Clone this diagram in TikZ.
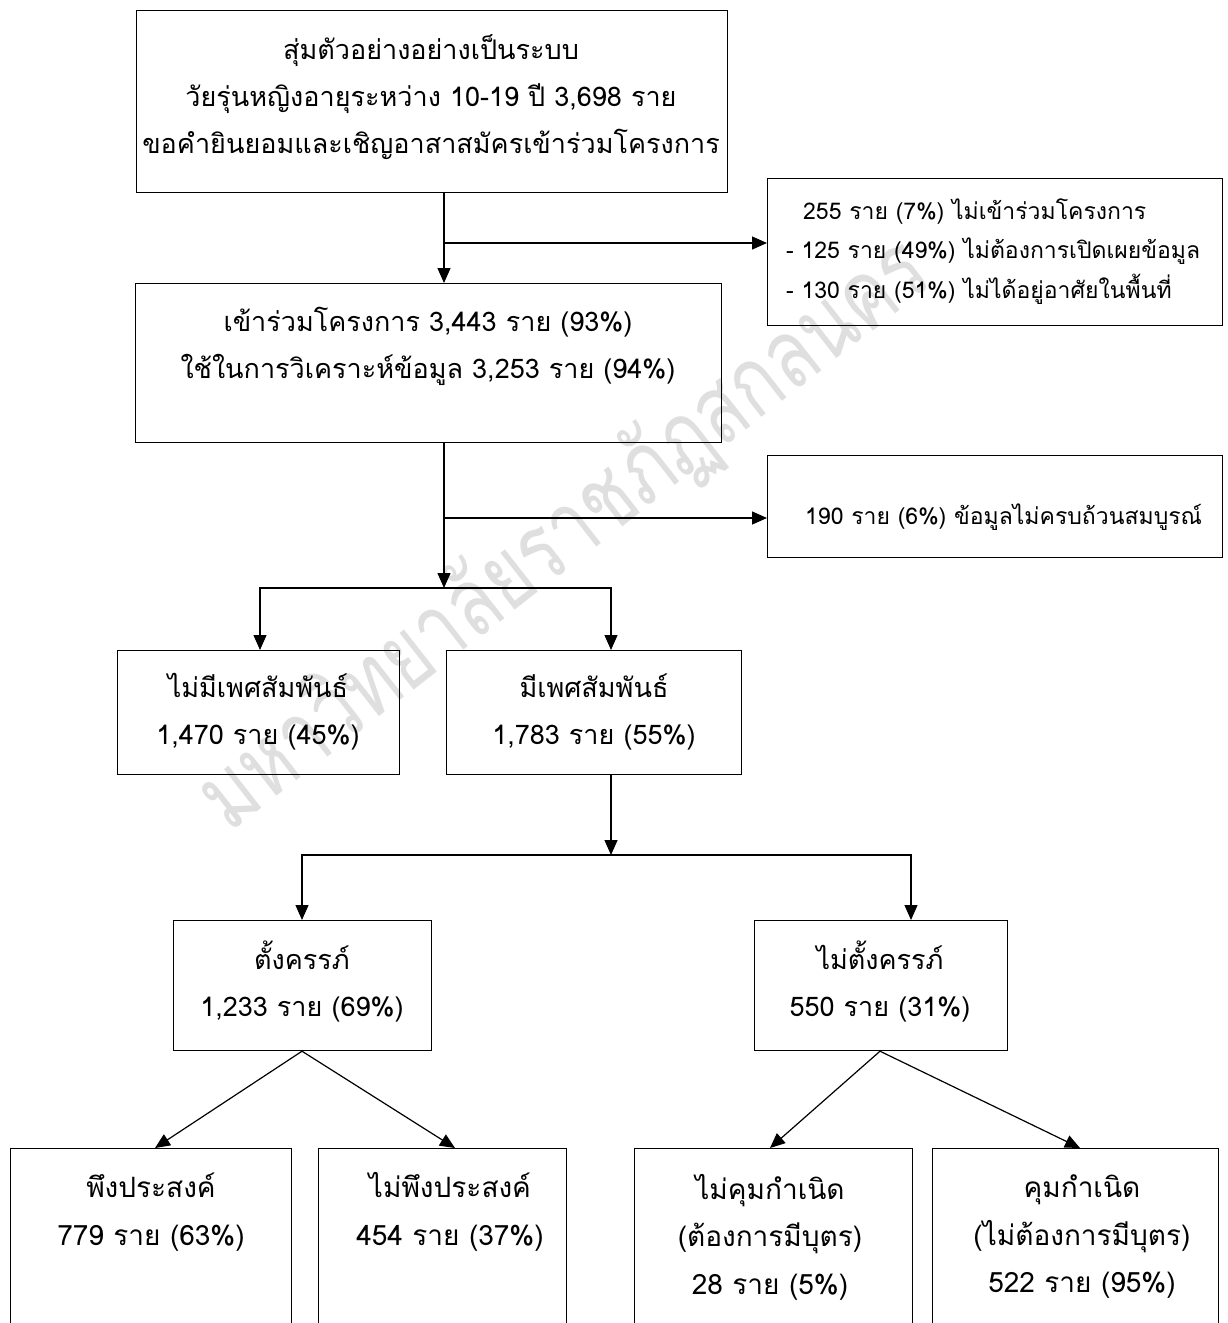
\documentclass[tikz,border=0pt]{standalone}
\usepackage{fontspec}
\setmainfont[Script=Thai]{Loma}
\newfontfamily\wmfont[Script=Thai,FakeStretch=0.76]{Loma}
\usetikzlibrary{arrows.meta,calc}
\tikzset{
  box/.style={draw, line width=1.2pt, rectangle, anchor=north west, inner sep=0pt},
  txt/.style={font=\fontsize{27}{47}\selectfont, align=center, inner sep=0pt},
  btxt/.style={font=\fontsize{28}{47.5}\selectfont, align=center, inner sep=0pt},
  ltxt/.style={font=\fontsize{23}{39}\selectfont, align=left, inner sep=0pt, anchor=west},
  conn/.style={line width=1.2pt},
  arr/.style={line width=1.2pt, -{Triangle[length=15pt,width=13pt]}},
  wm/.style={font=\wmfont\fontsize{96}{100}\selectfont, text=gray!25, inner sep=0pt}
}
\begin{document}
\begin{tikzpicture}[x=1pt,y=-1pt]
\useasboundingbox (0,0) rectangle (1227,1323);
\fill[white] (0,0) rectangle (1227,1323);
% watermark
\node[wm, rotate=38] (wmark) at (565,535) {มหาวิทยาลัยราชภัฏสกลนคร};
% boxes
\node[box, minimum width=591pt, minimum height=182pt] (b1) at (136,10) {};
\node[box, minimum width=455pt, minimum height=147pt] (ex1) at (767,178) {};
\node[box, minimum width=586pt, minimum height=159pt] (b2) at (135,283) {};
\node[box, minimum width=455pt, minimum height=102pt] (ex2) at (767,455) {};
\node[box, minimum width=282pt, minimum height=124pt] (nosex) at (117,650) {};
\node[box, minimum width=295pt, minimum height=124pt] (sex) at (446,650) {};
\node[box, minimum width=258pt, minimum height=130pt] (preg) at (173,920) {};
\node[box, minimum width=253pt, minimum height=130pt] (npreg) at (754,920) {};
\node[box, minimum width=281pt, minimum height=200pt] (d1) at (10,1148) {};
\node[box, minimum width=248pt, minimum height=200pt] (d2) at (318,1148) {};
\node[box, minimum width=278pt, minimum height=200pt] (d3) at (634,1148) {};
\node[box, minimum width=286pt, minimum height=200pt] (d4) at (932,1148) {};
% texts
\node[txt] (t1) at (431,97) {สุ่มตัวอย่างอย่างเป็นระบบ\\วัยรุ่นหญิงอายุระหว่าง 10-19 ปี 3,698 ราย\\ขอคำยินยอมและเชิญอาสาสมัครเข้าร่วมโครงการ};
\node[ltxt] (tex1a) at (803,212) {255 ราย (7\%) ไม่เข้าร่วมโครงการ};
\node[ltxt] (tex1b) at (786,251) {- 125 ราย (49\%) ไม่ต้องการเปิดเผยข้อมูล};
\node[ltxt] (tex1c) at (786,289) {- 130 ราย (51\%) ไม่ได้อยู่อาศัยในพื้นที่};
\node[txt] (t2) at (428,346) {เข้าร่วมโครงการ 3,443 ราย (93\%)\\ใช้ในการวิเคราะห์ข้อมูล 3,253 ราย (94\%)};
\node[ltxt] (tex2) at (805,517) {190 ราย (6\%) ข้อมูลไม่ครบถ้วนสมบูรณ์};
\node[txt] (tns) at (258,712) {ไม่มีเพศสัมพันธ์\\1,470 ราย (45\%)};
\node[txt] (ts) at (594,712) {มีเพศสัมพันธ์\\1,783 ราย (55\%)};
\node[txt] (tp) at (302,982) {ตั้งครรภ์\\1,233 ราย (69\%)};
\node[txt] (tnp) at (880,982) {ไม่ตั้งครรภ์\\550 ราย (31\%)};
\node[btxt] (td1) at (151,1212) {พึงประสงค์\\779 ราย (63\%)};
\node[btxt] (td2) at (450,1212) {ไม่พึงประสงค์\\454 ราย (37\%)};
\node[btxt] (td3) at (770,1237) {ไม่คุมกำเนิด\\(ต้องการมีบุตร)\\28 ราย (5\%)};
\node[btxt] (td4) at (1082,1237) {คุมกำเนิด\\(ไม่ต้องการมีบุตร)\\522 ราย (95\%)};
% junction coordinates
\coordinate (j1) at (444,243);
\coordinate (j2) at (444,518);
\coordinate (j3) at (444,588);
\coordinate (j4) at (611,855);
% connectors
\draw[arr] (b1.south -| j1) -- (b2.north -| j1);
\draw[arr] (j1) -- (ex1.west |- j1);
\draw[conn] (b2.south -| j2) -- (j2);
\draw[arr] (j2) -- (j3);
\draw[arr] (j2) -- (ex2.west |- j2);
\draw[arr] (j3) -| (nosex.north -| 260,0);
\draw[arr] (j3) -| (sex.north -| 611,0);
\draw[arr] (sex.south -| j4) -- (j4);
\draw[arr] (j4) -| (preg.north -| 302,0);
\draw[arr] (j4) -| (npreg.north -| 911,0);
\draw[arr] (preg.south -| 302,0) -- (d1.north -| 155,0);
\draw[arr] (preg.south -| 302,0) -- (d2.north -| 455,0);
\draw[arr] (npreg.south -| 880,0) -- (d3.north -| 770,0);
\draw[arr] (npreg.south -| 880,0) -- (d4.north -| 1080,0);
\end{tikzpicture}
\end{document}
